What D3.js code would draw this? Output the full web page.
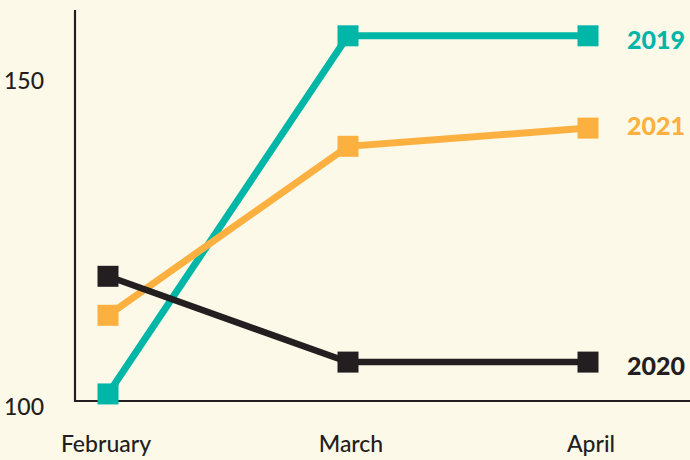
<!DOCTYPE html>
<html lang="en">
  <head>
    <meta charset="UTF-8" />
    <title>Monthly index</title>
    <script src="https://d3js.org/d3.v7.min.js"></script>
    <style>
      html, body { margin: 0; padding: 0; background: #fdf9e9; }
      svg { display: block; font-family: Lato, "Open Sans", sans-serif; }
    </style>
  </head>
  <body>
    <div id="chart"></div>
    <script>
      // data
      const months = ["February", "March", "April"];
      const years = ["2019", "2021", "2020"];
      const values2019 = [101.7, 156.8, 156.8];
      const values2021 = [113.8, 139.8, 142.6];
      const values2020 = [119.8, 106.6, 106.6];
      const yTicks = [100, 150];
      const colors = { "2019": "#00b6a6", "2021": "#fbb040", "2020": "#231f20" };

      const series = [
        { name: "2019", values: values2019 },
        { name: "2021", values: values2021 },
        { name: "2020", values: values2020 }
      ];

      const width = 690, height = 460;
      const svg = d3.select("#chart").append("svg")
        .attr("width", width)
        .attr("height", height);

      const x = d3.scalePoint().domain(months).range([108, 588]);
      const y = d3.scaleLinear().domain([100, 150]).range([405, 80]);

      // axes
      const ink = "#231f20";
      svg.append("line")
        .attr("x1", 75).attr("x2", 75)
        .attr("y1", 10).attr("y2", 401)
        .attr("stroke", ink).attr("stroke-width", 2.2);
      svg.append("line")
        .attr("x1", 74).attr("x2", width)
        .attr("y1", 401).attr("y2", 401)
        .attr("stroke", ink).attr("stroke-width", 2.2);

      svg.selectAll(".ytick")
        .data(yTicks)
        .enter().append("text")
        .attr("class", "ytick")
        .attr("x", 44)
        .attr("y", d => y(d) + (d === 100 ? 2 : 1))
        .attr("dy", "0.35em")
        .attr("text-anchor", "end")
        .attr("font-size", 23)
        .attr("font-weight", 500)
        .attr("fill", ink)
        .text(d => d);

      svg.selectAll(".xtick")
        .data(months)
        .enter().append("text")
        .attr("class", "xtick")
        .attr("x", d => x(d) - (d === "February" ? 2 : -3))
        .attr("y", 444)
        .attr("dy", "0.35em")
        .attr("text-anchor", "middle")
        .attr("font-size", 23)
        .attr("font-weight", 500)
        .attr("fill", ink)
        .text(d => d);

      const line = d3.line()
        .x((d, i) => x(months[i]))
        .y(d => y(d));

      const g = svg.selectAll(".series")
        .data(series)
        .enter().append("g")
        .attr("class", "series");

      g.append("path")
        .attr("d", d => line(d.values))
        .attr("fill", "none")
        .attr("stroke", d => colors[d.name])
        .attr("stroke-width", d => d.name === "2020" ? 6.5 : 7);

      const m = 21;
      g.selectAll("rect")
        .data(d => d.values.map((v, i) => ({ v, i, name: d.name })))
        .enter().append("rect")
        .attr("x", d => x(months[d.i]) - m / 2)
        .attr("y", d => y(d.v) - m / 2)
        .attr("width", m)
        .attr("height", m)
        .attr("fill", d => colors[d.name]);

      g.append("text")
        .attr("x", 627)
        .attr("y", d => y(d.values[2]) + (d.name === "2021" ? -2 : 4))
        .attr("dy", "0.35em")
        .attr("font-size", 25)
        .attr("font-weight", 900)
        .attr("fill", d => colors[d.name])
        .text(d => d.name);
    </script>
  </body>
</html>
